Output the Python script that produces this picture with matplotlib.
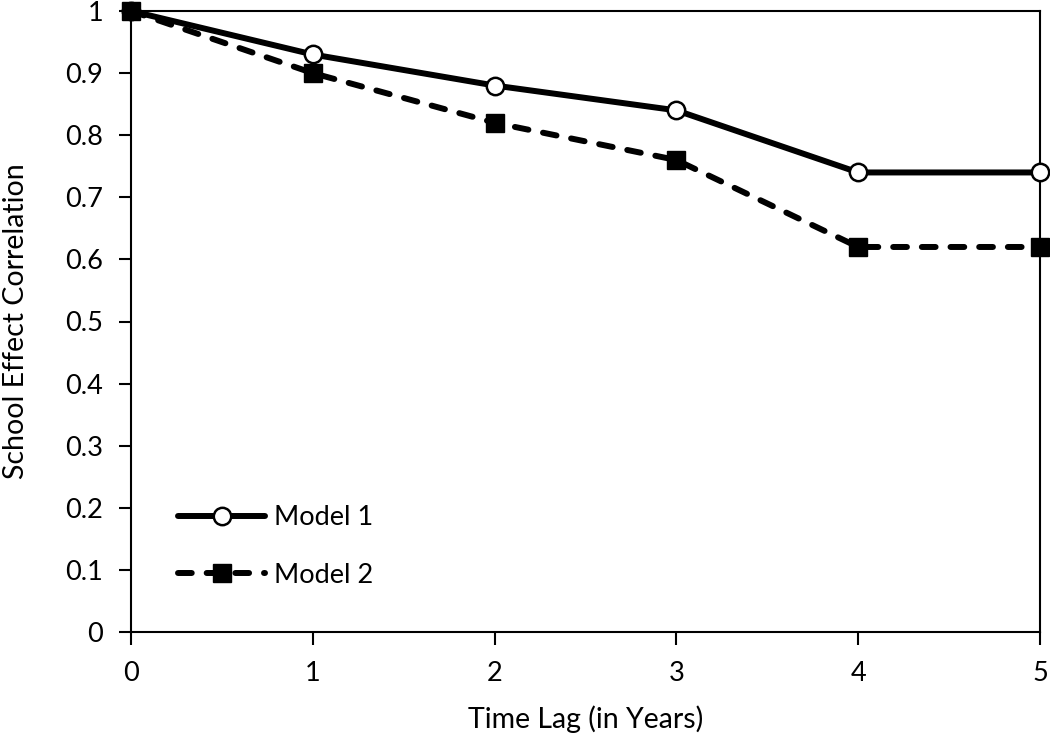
import matplotlib
matplotlib.use("Agg")
import matplotlib.pyplot as plt

lags = [0, 1, 2, 3, 4, 5]
model1 = [1.0, 0.93, 0.88, 0.84, 0.74, 0.74]
model2 = [1.0, 0.90, 0.82, 0.76, 0.62, 0.62]
yticks = [0, 0.1, 0.2, 0.3, 0.4, 0.5, 0.6, 0.7, 0.8, 0.9, 1]
ytick_labels = ["0", "0.1", "0.2", "0.3", "0.4", "0.5", "0.6", "0.7", "0.8", "0.9", "1"]

plt.rcParams['font.family'] = ['Lato', 'DejaVu Sans']

fig = plt.figure(figsize=(10.5, 7.39), dpi=100)
ax = fig.add_axes([131/1050, 1-632/739, (1040-131)/1050, (632-11)/739])

lw = 4.3
ax.plot(lags, model1, color='black', lw=lw, marker='o', ms=12.5, mfc='white',
        mec='black', mew=1.8, label='Model 1', clip_on=False, zorder=3,
        solid_capstyle='round')
ax.plot(lags, model2, color='black', lw=lw, ls=(0, (2.3, 2.5)), marker='s', ms=12.5,
        mfc='black', mec='black', label='Model 2', clip_on=False, zorder=3,
        dash_capstyle='round')

ax.set_xlim(0, 5)
ax.set_ylim(0, 1)
ax.set_xticks(lags)
ax.set_yticks(yticks)
ax.set_yticklabels(ytick_labels)
ax.tick_params(direction='out', length=9, width=1.5, labelsize=19.5)
ax.tick_params(axis='x', pad=12)
ax.tick_params(axis='y', pad=11)
for s in ax.spines.values():
    s.set_linewidth(1.5)

ax.set_xlabel('Time Lag (in Years)', fontsize=20.5, labelpad=14)
ax.set_ylabel('School Effect Correlation', fontsize=20.5, labelpad=26)

ax.legend(loc='lower left', bbox_to_anchor=(0.04, 0.054), frameon=False, fontsize=19.5,
          handlelength=3.2, handletextpad=0.35, labelspacing=1.2, borderaxespad=0)

fig.savefig('out.png', dpi=100)
